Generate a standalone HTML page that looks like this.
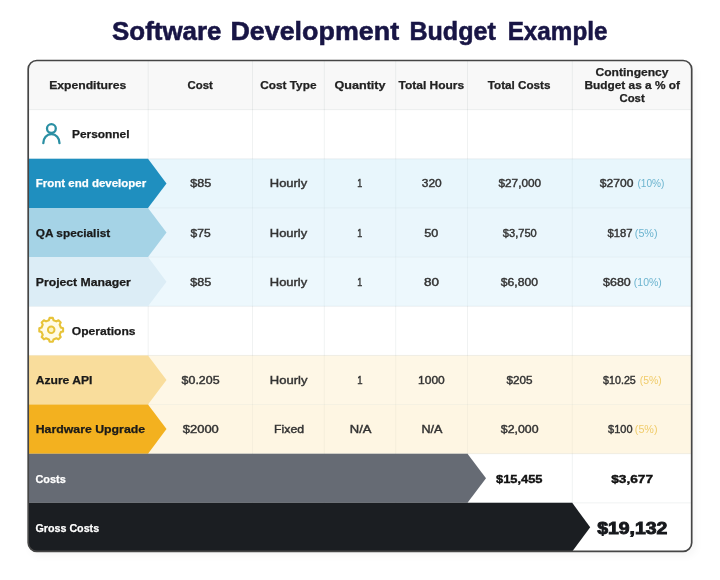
<!DOCTYPE html>
<html lang="en"><head><meta charset="utf-8"><title>Software Development Budget Example</title>
<style>
html,body{margin:0;padding:0;background:#fff;}
body{width:720px;height:580px;overflow:hidden;font-family:"Liberation Sans",sans-serif;}
svg{display:block;filter:blur(.45px);}
svg text{font-family:"Liberation Sans",sans-serif;}
.b{font-weight:700;}
.t{font-size:25.2px;font-weight:700;fill:#181545;stroke:#181545;stroke-width:.55px;}
.h{font-size:11.1px;font-weight:700;fill:#222;stroke:#222;stroke-width:.25px;}
.l{font-size:10.9px;font-weight:700;fill:#1a1a1a;stroke:#1a1a1a;stroke-width:.25px;}
.w{fill:#fff;stroke:#fff;}
.d{font-size:10.5px;font-weight:400;fill:#333;stroke:#333;stroke-width:.4px;}
.pb{font-size:10.5px;font-weight:400;fill:#6cb4cf;}
.py{font-size:10.5px;font-weight:400;fill:#f0cc6b;}
.s{font-size:11.1px;font-weight:700;fill:#111;stroke:#111;stroke-width:.4px;}
.g{font-size:16.4px;font-weight:700;fill:#16181c;stroke:#16181c;stroke-width:.9px;}
</style></head><body>
<svg width="720" height="580" viewBox="0 0 720 580">
<defs><clipPath id="c"><rect x="28.2" y="60.5" width="663.5" height="490.8" rx="8.6" ry="8.6"/></clipPath>
<filter id="sh" x="-5%" y="-5%" width="110%" height="110%"><feGaussianBlur stdDeviation="4"/></filter></defs>
<rect width="720" height="580" fill="#fff"/>
<rect x="30" y="64" width="666" height="492" rx="10" fill="#000" opacity=".035" filter="url(#sh)"/>
<g clip-path="url(#c)">
<rect x="28" y="60" width="664" height="492" fill="#fff"/>
<rect x="28" y="60.50" width="664" height="49.15" fill="#f8f8f8"/>
<rect x="28" y="158.80" width="664" height="49.15" fill="#e8f6fc"/>
<rect x="28" y="207.95" width="664" height="49.15" fill="#eaf6fc"/>
<rect x="28" y="257.10" width="664" height="49.15" fill="#edf8fd"/>
<rect x="28" y="355.40" width="664" height="49.15" fill="#fef7e6"/>
<rect x="28" y="404.55" width="664" height="49.15" fill="#fef6e3"/>
<rect x="28" y="109.15" width="664" height="1" fill="#28404a" opacity="0.07"/>
<rect x="28" y="158.30" width="664" height="1" fill="#28404a" opacity="0.07"/>
<rect x="28" y="207.45" width="664" height="1" fill="#28404a" opacity="0.045"/>
<rect x="28" y="256.60" width="664" height="1" fill="#28404a" opacity="0.045"/>
<rect x="28" y="305.75" width="664" height="1" fill="#28404a" opacity="0.07"/>
<rect x="28" y="354.90" width="664" height="1" fill="#28404a" opacity="0.07"/>
<rect x="28" y="404.05" width="664" height="1" fill="#28404a" opacity="0.045"/>
<rect x="28" y="453.20" width="664" height="1" fill="#28404a" opacity="0.07"/>
<rect x="28" y="502.35" width="664" height="1" fill="#28404a" opacity="0.07"/>
<rect x="147.70" y="60.50" width="1" height="49.15" fill="#28404a" opacity="0.07"/>
<rect x="147.70" y="109.65" width="1" height="49.15" fill="#28404a" opacity="0.07"/>
<rect x="147.70" y="158.80" width="1" height="49.15" fill="#28404a" opacity="0.04"/>
<rect x="147.70" y="207.95" width="1" height="49.15" fill="#28404a" opacity="0.04"/>
<rect x="147.70" y="257.10" width="1" height="49.15" fill="#28404a" opacity="0.04"/>
<rect x="147.70" y="306.25" width="1" height="49.15" fill="#28404a" opacity="0.07"/>
<rect x="147.70" y="355.40" width="1" height="49.15" fill="#28404a" opacity="0.04"/>
<rect x="147.70" y="404.55" width="1" height="49.15" fill="#28404a" opacity="0.04"/>
<rect x="147.70" y="453.70" width="1" height="49.15" fill="#28404a" opacity="0.07"/>
<rect x="147.70" y="502.85" width="1" height="48.65" fill="#28404a" opacity="0.07"/>
<rect x="252.00" y="60.50" width="1" height="49.15" fill="#28404a" opacity="0.07"/>
<rect x="252.00" y="109.65" width="1" height="49.15" fill="#28404a" opacity="0.07"/>
<rect x="252.00" y="158.80" width="1" height="49.15" fill="#28404a" opacity="0.04"/>
<rect x="252.00" y="207.95" width="1" height="49.15" fill="#28404a" opacity="0.04"/>
<rect x="252.00" y="257.10" width="1" height="49.15" fill="#28404a" opacity="0.04"/>
<rect x="252.00" y="306.25" width="1" height="49.15" fill="#28404a" opacity="0.07"/>
<rect x="252.00" y="355.40" width="1" height="49.15" fill="#28404a" opacity="0.04"/>
<rect x="252.00" y="404.55" width="1" height="49.15" fill="#28404a" opacity="0.04"/>
<rect x="252.00" y="453.70" width="1" height="49.15" fill="#28404a" opacity="0.07"/>
<rect x="252.00" y="502.85" width="1" height="48.65" fill="#28404a" opacity="0.07"/>
<rect x="323.80" y="60.50" width="1" height="49.15" fill="#28404a" opacity="0.07"/>
<rect x="323.80" y="109.65" width="1" height="49.15" fill="#28404a" opacity="0.07"/>
<rect x="323.80" y="158.80" width="1" height="49.15" fill="#28404a" opacity="0.04"/>
<rect x="323.80" y="207.95" width="1" height="49.15" fill="#28404a" opacity="0.04"/>
<rect x="323.80" y="257.10" width="1" height="49.15" fill="#28404a" opacity="0.04"/>
<rect x="323.80" y="306.25" width="1" height="49.15" fill="#28404a" opacity="0.07"/>
<rect x="323.80" y="355.40" width="1" height="49.15" fill="#28404a" opacity="0.04"/>
<rect x="323.80" y="404.55" width="1" height="49.15" fill="#28404a" opacity="0.04"/>
<rect x="323.80" y="453.70" width="1" height="49.15" fill="#28404a" opacity="0.07"/>
<rect x="323.80" y="502.85" width="1" height="48.65" fill="#28404a" opacity="0.07"/>
<rect x="395.20" y="60.50" width="1" height="49.15" fill="#28404a" opacity="0.07"/>
<rect x="395.20" y="109.65" width="1" height="49.15" fill="#28404a" opacity="0.07"/>
<rect x="395.20" y="158.80" width="1" height="49.15" fill="#28404a" opacity="0.04"/>
<rect x="395.20" y="207.95" width="1" height="49.15" fill="#28404a" opacity="0.04"/>
<rect x="395.20" y="257.10" width="1" height="49.15" fill="#28404a" opacity="0.04"/>
<rect x="395.20" y="306.25" width="1" height="49.15" fill="#28404a" opacity="0.07"/>
<rect x="395.20" y="355.40" width="1" height="49.15" fill="#28404a" opacity="0.04"/>
<rect x="395.20" y="404.55" width="1" height="49.15" fill="#28404a" opacity="0.04"/>
<rect x="395.20" y="453.70" width="1" height="49.15" fill="#28404a" opacity="0.07"/>
<rect x="395.20" y="502.85" width="1" height="48.65" fill="#28404a" opacity="0.07"/>
<rect x="467.00" y="60.50" width="1" height="49.15" fill="#28404a" opacity="0.07"/>
<rect x="467.00" y="109.65" width="1" height="49.15" fill="#28404a" opacity="0.07"/>
<rect x="467.00" y="158.80" width="1" height="49.15" fill="#28404a" opacity="0.04"/>
<rect x="467.00" y="207.95" width="1" height="49.15" fill="#28404a" opacity="0.04"/>
<rect x="467.00" y="257.10" width="1" height="49.15" fill="#28404a" opacity="0.04"/>
<rect x="467.00" y="306.25" width="1" height="49.15" fill="#28404a" opacity="0.07"/>
<rect x="467.00" y="355.40" width="1" height="49.15" fill="#28404a" opacity="0.04"/>
<rect x="467.00" y="404.55" width="1" height="49.15" fill="#28404a" opacity="0.04"/>
<rect x="467.00" y="453.70" width="1" height="49.15" fill="#28404a" opacity="0.07"/>
<rect x="467.00" y="502.85" width="1" height="48.65" fill="#28404a" opacity="0.07"/>
<rect x="571.80" y="60.50" width="1" height="49.15" fill="#28404a" opacity="0.07"/>
<rect x="571.80" y="109.65" width="1" height="49.15" fill="#28404a" opacity="0.07"/>
<rect x="571.80" y="158.80" width="1" height="49.15" fill="#28404a" opacity="0.04"/>
<rect x="571.80" y="207.95" width="1" height="49.15" fill="#28404a" opacity="0.04"/>
<rect x="571.80" y="257.10" width="1" height="49.15" fill="#28404a" opacity="0.04"/>
<rect x="571.80" y="306.25" width="1" height="49.15" fill="#28404a" opacity="0.07"/>
<rect x="571.80" y="355.40" width="1" height="49.15" fill="#28404a" opacity="0.04"/>
<rect x="571.80" y="404.55" width="1" height="49.15" fill="#28404a" opacity="0.04"/>
<rect x="571.80" y="453.70" width="1" height="49.15" fill="#28404a" opacity="0.07"/>
<rect x="571.80" y="502.85" width="1" height="48.65" fill="#28404a" opacity="0.07"/>
<path d="M28 158.80H148L166.5 183.38L148 207.95H28Z" fill="#1f8fbf"/>
<path d="M28 207.95H148L166.5 232.53L148 257.10H28Z" fill="#a5d3e6"/>
<path d="M28 257.10H148L166.5 281.68L148 306.25H28Z" fill="#dcedf6"/>
<path d="M28 355.40H148L166.5 379.98L148 404.55H28Z" fill="#f9dd9c"/>
<path d="M28 404.55H148L166.5 429.12L148 453.70H28Z" fill="#f3b11f"/>
<path d="M28 453.70H467.5L486 478.27L467.5 502.85H28Z" fill="#666b74"/>
<path d="M28 502.85H572.2L590.2 527.17L572.2 551.50H28Z" fill="#1b1e22"/>
</g>
<rect x="28.2" y="60.5" width="663.5" height="490.8" rx="8.6" ry="8.6" fill="none" stroke="#454545" stroke-width="1.7"/>
<g fill="none" stroke="#2a8fa3" stroke-width="2.3" stroke-linecap="round"><circle cx="51.4" cy="128.6" r="4.4"/><path d="M43.3 143.2c0-5.2 3.4-9 8.1-9s8.1 3.8 8.1 9"/></g>
<g fill="#fffbe6" stroke="#e7c338" stroke-width="2.1" stroke-linejoin="round"><path d="M48.89 320.17L49.60 317.91L52.80 317.91L53.51 320.17L56.37 321.36L58.48 320.26L60.74 322.52L59.64 324.63L60.83 327.49L63.09 328.20L63.09 331.40L60.83 332.11L59.64 334.97L60.74 337.08L58.48 339.34L56.37 338.24L53.51 339.43L52.80 341.69L49.60 341.69L48.89 339.43L46.03 338.24L43.92 339.34L41.66 337.08L42.76 334.97L41.57 332.11L39.31 331.40L39.31 328.20L41.57 327.49L42.76 324.63L41.66 322.52L43.92 320.26L46.03 321.36Z"/><circle cx="51.2" cy="329.8" r="3.3" fill="#fdf4c4" stroke-width="1.9"/></g>
<text class="t" y="40.4"><tspan x="112.1" textLength="109.4" lengthAdjust="spacingAndGlyphs">Software</tspan> <tspan x="230.4" textLength="168.7" lengthAdjust="spacingAndGlyphs">Development</tspan> <tspan x="409.4" textLength="86.4" lengthAdjust="spacingAndGlyphs">Budget</tspan> <tspan x="507.7" textLength="99.8" lengthAdjust="spacingAndGlyphs">Example</tspan></text>
<text class="h" x="49.2" y="89.2" textLength="77.0" lengthAdjust="spacingAndGlyphs">Expenditures</text>
<text class="h" x="187.5" y="89.2" textLength="25.3" lengthAdjust="spacingAndGlyphs">Cost</text>
<text class="h" x="260.2" y="89.2" textLength="56.3" lengthAdjust="spacingAndGlyphs">Cost Type</text>
<text class="h" x="334.5" y="89.2" textLength="51.0" lengthAdjust="spacingAndGlyphs">Quantity</text>
<text class="h" x="398.5" y="89.2" textLength="65.7" lengthAdjust="spacingAndGlyphs">Total Hours</text>
<text class="h" x="487.8" y="89.2" textLength="62.7" lengthAdjust="spacingAndGlyphs">Total Costs</text>
<text class="h" x="595.5" y="75.5" textLength="73.0" lengthAdjust="spacingAndGlyphs">Contingency</text>
<text class="h" x="584.5" y="88.9" textLength="95.5" lengthAdjust="spacingAndGlyphs">Budget as a % of</text>
<text class="h" x="619.5" y="102.1" textLength="25.2" lengthAdjust="spacingAndGlyphs">Cost</text>
<text class="l" x="72.0" y="137.9" textLength="57.5" lengthAdjust="spacingAndGlyphs">Personnel</text>
<text class="l" x="71.8" y="335.0" textLength="63.7" lengthAdjust="spacingAndGlyphs">Operations</text>
<text class="l w" x="35.8" y="187.4" textLength="110.4" lengthAdjust="spacingAndGlyphs">Front end developer</text>
<text class="l" x="35.8" y="236.7" textLength="74.4" lengthAdjust="spacingAndGlyphs">QA specialist</text>
<text class="l" x="35.8" y="286.0" textLength="95.0" lengthAdjust="spacingAndGlyphs">Project Manager</text>
<text class="l" x="35.7" y="384.1" textLength="56.8" lengthAdjust="spacingAndGlyphs">Azure API</text>
<text class="l" x="35.7" y="433.4" textLength="109.4" lengthAdjust="spacingAndGlyphs">Hardware Upgrade</text>
<text class="l w" x="35.5" y="482.7" textLength="30.3" lengthAdjust="spacingAndGlyphs">Costs</text>
<text class="l w" x="35.5" y="531.7" textLength="63.6" lengthAdjust="spacingAndGlyphs">Gross Costs</text>
<text class="d" x="190.3" y="187.2" textLength="20.9" lengthAdjust="spacingAndGlyphs">$85</text>
<text class="d" x="269.8" y="187.2" textLength="37.4" lengthAdjust="spacingAndGlyphs">Hourly</text>
<text class="d" x="357.3" y="187.2" textLength="5.0" lengthAdjust="spacingAndGlyphs">1</text>
<text class="d" x="421.8" y="187.2" textLength="20.0" lengthAdjust="spacingAndGlyphs">320</text>
<text class="d" x="498.5" y="187.2" textLength="42.6" lengthAdjust="spacingAndGlyphs">$27,000</text>
<text class="d" x="599.8" y="187.2" textLength="33.6" lengthAdjust="spacingAndGlyphs">$2700</text>
<text class="pb" x="637.4" y="187.2" textLength="27.0" lengthAdjust="spacingAndGlyphs">(10%)</text>
<text class="d" x="190.6" y="236.6" textLength="20.1" lengthAdjust="spacingAndGlyphs">$75</text>
<text class="d" x="269.8" y="236.6" textLength="37.4" lengthAdjust="spacingAndGlyphs">Hourly</text>
<text class="d" x="357.3" y="236.6" textLength="5.0" lengthAdjust="spacingAndGlyphs">1</text>
<text class="d" x="424.3" y="236.6" textLength="14.0" lengthAdjust="spacingAndGlyphs">50</text>
<text class="d" x="502.8" y="236.6" textLength="34.0" lengthAdjust="spacingAndGlyphs">$3,750</text>
<text class="d" x="607.5" y="236.6" textLength="25.0" lengthAdjust="spacingAndGlyphs">$187</text>
<text class="pb" x="634.8" y="236.6" textLength="22.7" lengthAdjust="spacingAndGlyphs">(5%)</text>
<text class="d" x="190.3" y="285.9" textLength="20.9" lengthAdjust="spacingAndGlyphs">$85</text>
<text class="d" x="269.8" y="285.9" textLength="37.4" lengthAdjust="spacingAndGlyphs">Hourly</text>
<text class="d" x="357.3" y="285.9" textLength="5.0" lengthAdjust="spacingAndGlyphs">1</text>
<text class="d" x="424.1" y="285.9" textLength="15.0" lengthAdjust="spacingAndGlyphs">80</text>
<text class="d" x="500.8" y="285.9" textLength="37.2" lengthAdjust="spacingAndGlyphs">$6,800</text>
<text class="d" x="603.1" y="285.9" textLength="27.7" lengthAdjust="spacingAndGlyphs">$680</text>
<text class="pb" x="633.8" y="285.9" textLength="28.0" lengthAdjust="spacingAndGlyphs">(10%)</text>
<text class="d" x="181.6" y="384.2" textLength="38.0" lengthAdjust="spacingAndGlyphs">$0.205</text>
<text class="d" x="269.8" y="384.2" textLength="37.6" lengthAdjust="spacingAndGlyphs">Hourly</text>
<text class="d" x="357.3" y="384.2" textLength="5.3" lengthAdjust="spacingAndGlyphs">1</text>
<text class="d" x="418.1" y="384.2" textLength="26.7" lengthAdjust="spacingAndGlyphs">1000</text>
<text class="d" x="506.5" y="384.2" textLength="26.0" lengthAdjust="spacingAndGlyphs">$205</text>
<text class="d" x="603.1" y="384.2" textLength="32.7" lengthAdjust="spacingAndGlyphs">$10.25</text>
<text class="py" x="639.8" y="384.2" textLength="22.0" lengthAdjust="spacingAndGlyphs">(5%)</text>
<text class="d" x="182.8" y="433.4" textLength="36.0" lengthAdjust="spacingAndGlyphs">$2000</text>
<text class="d" x="274.1" y="433.4" textLength="30.0" lengthAdjust="spacingAndGlyphs">Fixed</text>
<text class="d" x="349.8" y="433.4" textLength="21.7" lengthAdjust="spacingAndGlyphs">N/A</text>
<text class="d" x="421.5" y="433.4" textLength="21.0" lengthAdjust="spacingAndGlyphs">N/A</text>
<text class="d" x="500.8" y="433.4" textLength="37.7" lengthAdjust="spacingAndGlyphs">$2,000</text>
<text class="d" x="608.1" y="433.4" textLength="24.4" lengthAdjust="spacingAndGlyphs">$100</text>
<text class="py" x="634.8" y="433.4" textLength="22.7" lengthAdjust="spacingAndGlyphs">(5%)</text>
<text class="s" x="496.0" y="482.5" textLength="46.5" lengthAdjust="spacingAndGlyphs">$15,455</text>
<text class="s" x="611.2" y="482.5" textLength="41.8" lengthAdjust="spacingAndGlyphs">$3,677</text>
<text class="g" x="597.2" y="533.8" textLength="70.1" lengthAdjust="spacingAndGlyphs">$19,132</text>
</svg>
</body></html>
